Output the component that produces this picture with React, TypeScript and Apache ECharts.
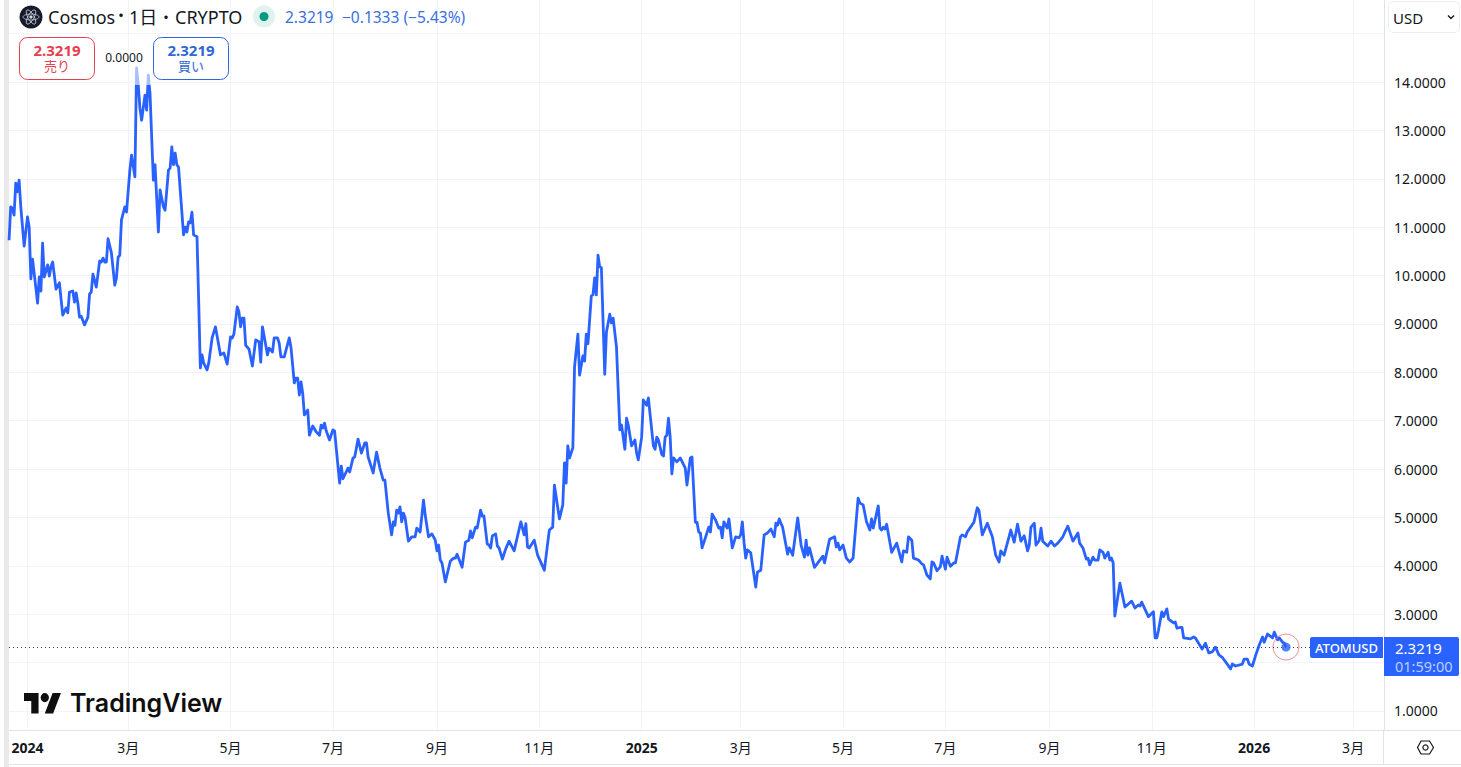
import { useEffect, useRef } from "react";
import * as echarts from "echarts";

// [days since 2024-01-01, close]
const closes: [number, number][] = [
  [-11, 10.73], [-10, 11.42], [-9, 11.39], [-8, 11.25], [-7, 11.91], [-6, 11.73], [-5, 11.97], [-4, 11.42], [-2, 10.61], [0, 11.21],
  [1, 11.0], [2, 9.93], [3, 10.34], [5, 9.74], [6, 9.43], [7, 9.97], [8, 9.68], [9, 10.67], [10, 9.97], [12, 10.22],
  [13, 9.99], [14, 10.18], [15, 10.28], [17, 9.72], [19, 9.85], [21, 9.18], [23, 9.33], [24, 9.23], [25, 9.66], [27, 9.68],
  [28, 9.45], [29, 9.64], [30, 9.43], [31, 9.14], [32, 9.16], [34, 8.98], [36, 9.14], [37, 9.62], [38, 9.66], [39, 10.03],
  [41, 9.76], [43, 10.3], [44, 10.28], [45, 10.36], [46, 10.28], [47, 10.28], [48, 10.76], [50, 10.47], [52, 9.8], [53, 9.95],
  [54, 10.38], [55, 10.42], [56, 11.15], [58, 11.42], [59, 11.31], [61, 12.18], [62, 12.49], [64, 12.04], [65, 14.29], [66, 13.94],
  [67, 13.46], [68, 13.21], [70, 13.73], [71, 13.42], [72, 14.14], [73, 13.77], [75, 11.97], [76, 12.29], [78, 10.9], [79, 11.77],
  [81, 11.42], [82, 11.35], [84, 12.18], [85, 12.22], [86, 12.66], [87, 12.29], [88, 12.53], [89, 12.29], [90, 12.24], [93, 10.84],
  [94, 11.0], [95, 10.9], [96, 11.11], [97, 11.09], [98, 11.31], [99, 10.84], [101, 10.8], [102, 9.49], [103, 8.09], [104, 8.36],
  [105, 8.19], [107, 8.05], [108, 8.19], [110, 8.71], [112, 8.94], [115, 8.36], [117, 8.4], [119, 8.17], [121, 8.73], [122, 8.71],
  [123, 8.79], [125, 9.35], [126, 9.25], [127, 8.94], [128, 9.12], [129, 9.12], [130, 8.56], [132, 8.48], [134, 8.13], [136, 8.67],
  [138, 8.63], [139, 8.21], [140, 8.94], [142, 8.56], [143, 8.36], [144, 8.5], [146, 8.42], [147, 8.71], [149, 8.71], [150, 8.6],
  [151, 8.32], [153, 8.32], [156, 8.71], [157, 8.52], [159, 7.78], [160, 7.88], [161, 7.88], [162, 7.53], [163, 7.8], [164, 7.57],
  [165, 7.12], [167, 7.22], [168, 6.7], [170, 6.89], [172, 6.77], [174, 6.7], [175, 6.91], [176, 6.85], [177, 6.95], [178, 6.79],
  [180, 6.6], [182, 6.81], [183, 6.79], [186, 5.71], [187, 6.06], [188, 5.8], [191, 6.02], [192, 5.94], [194, 6.23], [195, 6.25],
  [197, 6.62], [199, 6.33], [201, 6.54], [202, 6.54], [203, 6.25], [206, 5.92], [208, 6.35], [210, 6.02], [212, 5.77], [213, 5.77],
  [215, 5.09], [217, 4.64], [218, 4.91], [219, 4.84], [220, 5.15], [221, 5.09], [222, 5.22], [223, 4.91], [224, 5.09], [225, 5.0],
  [227, 4.51], [229, 4.6], [231, 4.6], [232, 4.78], [234, 4.7], [236, 5.36], [237, 5.05], [239, 4.6], [241, 4.66], [243, 4.53],
  [244, 4.31], [245, 4.43], [246, 4.12], [247, 4.06], [249, 3.67], [252, 4.1], [254, 4.16], [255, 4.16], [256, 4.24], [259, 3.97],
  [261, 4.49], [263, 4.53], [264, 4.72], [265, 4.58], [267, 4.8], [268, 4.78], [270, 5.15], [271, 5.03], [272, 5.03], [274, 4.45],
  [275, 4.43], [276, 4.37], [277, 4.62], [279, 4.66], [280, 4.41], [281, 4.37], [283, 4.14], [285, 4.35], [287, 4.51], [290, 4.31],
  [294, 4.91], [296, 4.64], [297, 4.87], [298, 4.39], [299, 4.37], [302, 4.53], [304, 4.22], [308, 3.91], [310, 4.47], [311, 4.74],
  [313, 4.8], [314, 5.67], [317, 4.97], [319, 5.26], [320, 6.13], [321, 5.71], [322, 6.48], [323, 6.23], [325, 6.44], [326, 8.11],
  [328, 8.79], [329, 7.94], [331, 8.34], [332, 8.23], [333, 8.79], [334, 8.59], [336, 9.58], [337, 9.6], [338, 9.95], [339, 9.6],
  [340, 10.42], [341, 10.18], [342, 10.16], [344, 7.96], [345, 8.83], [347, 9.2], [348, 9.02], [349, 9.12], [351, 8.52], [353, 6.81],
  [354, 6.91], [356, 6.41], [357, 7.05], [358, 6.91], [360, 6.48], [362, 6.6], [363, 6.33], [364, 6.19], [366, 6.66], [367, 7.43],
  [369, 7.32], [370, 7.47], [373, 6.48], [374, 6.41], [375, 6.66], [376, 6.6], [378, 6.3], [379, 6.27], [380, 6.66], [381, 6.7],
  [382, 7.05], [383, 6.66], [384, 5.9], [385, 6.23], [387, 6.15], [389, 6.23], [392, 6.02], [393, 5.67], [395, 6.23], [396, 6.25],
  [398, 4.9], [399, 4.9], [400, 4.7], [401, 4.68], [402, 4.37], [404, 4.58], [406, 4.8], [407, 4.7], [408, 5.07], [410, 4.95],
  [412, 4.78], [413, 4.8], [414, 4.58], [415, 4.91], [417, 4.78], [418, 4.97], [420, 4.37], [422, 4.6], [424, 4.58], [425, 4.64],
  [426, 4.91], [427, 4.49], [428, 4.16], [429, 4.33], [431, 4.27], [434, 3.56], [435, 3.87], [437, 3.91], [439, 4.64], [441, 4.68],
  [443, 4.76], [445, 4.6], [446, 4.88], [447, 4.84], [448, 4.97], [449, 4.88], [450, 4.8], [453, 4.24], [454, 4.37], [456, 4.22],
  [459, 4.99], [461, 4.43], [463, 4.18], [464, 4.53], [465, 4.22], [466, 4.37], [469, 3.97], [471, 4.06], [474, 4.2], [475, 4.06],
  [478, 4.55], [481, 4.6], [482, 4.39], [483, 4.47], [484, 4.33], [486, 4.43], [488, 4.16], [490, 4.08], [492, 4.16], [495, 5.4],
  [496, 5.3], [498, 5.26], [500, 4.91], [502, 4.74], [503, 4.97], [504, 4.78], [507, 5.24], [508, 4.78], [509, 4.74], [510, 4.8],
  [511, 4.76], [512, 4.86], [515, 4.28], [518, 4.47], [521, 4.08], [522, 4.31], [524, 4.28], [525, 4.6], [527, 4.53], [528, 4.16],
  [531, 4.12], [533, 4.04], [534, 4.02], [536, 3.81], [538, 3.73], [539, 4.08], [540, 4.06], [542, 3.9], [544, 3.98], [545, 4.2],
  [547, 3.93], [548, 4.18], [550, 3.99], [552, 4.06], [553, 4.06], [556, 4.6], [557, 4.64], [559, 4.6], [560, 4.7], [562, 4.8],
  [564, 4.9], [566, 5.2], [567, 5.15], [569, 4.64], [572, 4.88], [575, 4.6], [577, 4.22], [579, 4.08], [580, 4.31], [582, 4.22],
  [586, 4.74], [588, 4.49], [590, 4.86], [592, 4.51], [594, 4.62], [596, 4.31], [597, 4.43], [598, 4.8], [600, 4.88], [601, 4.43],
  [603, 4.53], [604, 4.78], [605, 4.51], [608, 4.41], [610, 4.51], [612, 4.41], [614, 4.47], [617, 4.6], [618, 4.68], [620, 4.82],
  [623, 4.51], [626, 4.68], [627, 4.47], [629, 4.37], [631, 4.14], [632, 4.16], [633, 4.02], [635, 4.18], [636, 4.12], [638, 4.12],
  [639, 4.33], [641, 4.28], [642, 4.16], [644, 4.28], [645, 4.12], [646, 4.16], [647, 4.06], [648, 2.96], [651, 3.64], [654, 3.15],
  [658, 3.27], [660, 3.13], [662, 3.19], [663, 3.17], [664, 3.25], [668, 2.95], [671, 3.05], [672, 2.51], [673, 2.51], [674, 2.67],
  [676, 3.05], [677, 2.95], [679, 3.11], [680, 2.9], [683, 2.82], [684, 2.84], [685, 2.71], [687, 2.73], [688, 2.73], [689, 2.51],
  [693, 2.49], [695, 2.53], [696, 2.51], [700, 2.28], [702, 2.4], [704, 2.2], [706, 2.22], [708, 2.32], [710, 2.16], [712, 2.11],
  [717, 1.87], [718, 1.97], [720, 1.93], [724, 1.97], [725, 2.07], [727, 2.07], [728, 1.97], [730, 1.93], [732, 2.16], [734, 2.36],
  [736, 2.53], [737, 2.42], [739, 2.59], [742, 2.51], [743, 2.63], [745, 2.47], [746, 2.51], [748, 2.42], [749, 2.4], [750, 2.3219],
];

const tickDays = [0, 60, 121, 182, 244, 305, 366, 425, 486, 547, 609, 670, 731, 790];
const tickNames = ["2024", "3月", "5月", "7月", "9月", "11月", "2025", "3月", "5月", "7月", "9月", "11月", "2026", "3月"];
const gridPrices = [1, 2, 3, 4, 5, 6, 7, 8, 9, 10, 11, 12, 13, 14, 15];
const labelPrices = [1, 3, 4, 5, 6, 7, 8, 9, 10, 11, 12, 13, 14];
const lastPrice = closes[closes.length - 1];

const BLUE = "#2962ff";
const RED = "#e5404f";
const INK = "#131722";
const RULE = "#e0e3eb";
const FONT = '"Noto Sans", "Noto Sans CJK JP", sans-serif';

echarts.graphic.registerShape(
  "tvlogo",
  echarts.graphic.extendPath("M14 22H7V11H0V4h14v18zM28 22h-8l7.5-18h8L28 22zM16 8a4 4 0 1 0 8 0a4 4 0 1 0 -8 0z", {})
);

function label(x: number, y: number, text: string, size: number, fill: string, extra: any = {}) {
  return {
    type: "text",
    z: 100,
    x,
    y,
    style: { text, fontSize: size, fontFamily: FONT, fill, textVerticalAlign: "middle", ...extra },
  };
}

function box(x: number, y: number, w: number, h: number, color: string) {
  return {
    type: "rect",
    z: 99,
    shape: { x, y, width: w, height: h, r: 8 },
    style: { fill: "#fff", stroke: color, lineWidth: 1 },
  };
}

function buildGraphics() {
  return [
    // left edge strip
    { type: "rect", z: 1, shape: { x: 4, y: 0, width: 5, height: 767 }, style: { fill: "#e9e9ea" } },
    // lower frame of the time scale
    { type: "line", z: 1, shape: { x1: 9, y1: 764.5, x2: 1461, y2: 764.5 }, style: { stroke: RULE } },
    { type: "line", z: 1, shape: { x1: 1383.5, y1: 730, x2: 1383.5, y2: 764 }, style: { stroke: RULE } },
    { type: "line", z: 1, shape: { x1: 1384, y1: 730.5, x2: 1461, y2: 730.5 }, style: { stroke: RULE } },

    // title row
    { type: "circle", z: 100, shape: { cx: 31, cy: 17, r: 11.5 }, style: { fill: "#171a28" } },
    { type: "ellipse", z: 101, x: 31, y: 17, rotation: 0, shape: { cx: 0, cy: 0, rx: 8, ry: 3 }, style: { fill: "none", stroke: "#c9cbe0", lineWidth: 0.8 } },
    { type: "ellipse", z: 101, x: 31, y: 17, rotation: Math.PI / 3, shape: { cx: 0, cy: 0, rx: 8, ry: 3 }, style: { fill: "none", stroke: "#c9cbe0", lineWidth: 0.8 } },
    { type: "ellipse", z: 101, x: 31, y: 17, rotation: -Math.PI / 3, shape: { cx: 0, cy: 0, rx: 8, ry: 3 }, style: { fill: "none", stroke: "#c9cbe0", lineWidth: 0.8 } },
    { type: "circle", z: 101, shape: { cx: 31, cy: 17, r: 1.6 }, style: { fill: "#d8d9ea" } },
    label(48, 17, "Cosmos", 18, INK),
    label(113, 15, "・", 16, INK),
    label(129, 17, "1日", 18, INK),
    label(158, 17, "・", 16, INK),
    label(175, 17, "CRYPTO", 18, INK),
    { type: "circle", z: 100, shape: { cx: 264, cy: 16.5, r: 11 }, style: { fill: "#dff2ee" } },
    { type: "circle", z: 101, shape: { cx: 264, cy: 16.5, r: 4.5 }, style: { fill: "#089981" } },
    label(285, 17, "2.3219", 15.5, "#3a6fe0"),
    label(342, 17, "−0.1333 (−5.43%)", 15.5, "#3a6fe0"),

    // sell / buy buttons
    box(19.5, 37.5, 75, 42, RED),
    label(57, 49.5, "2.3219", 15, RED, { textAlign: "center", fontWeight: 700 }),
    label(57, 66, "売り", 13, RED, { textAlign: "center" }),
    label(124, 57, "0.0000", 12, INK, { textAlign: "center" }),
    box(153.5, 37.5, 75, 42, "#2f66d8"),
    label(191, 49.5, "2.3219", 15, "#2f66d8", { textAlign: "center", fontWeight: 700 }),
    label(191, 66, "買い", 13, "#2f66d8", { textAlign: "center" }),

    // the line fades under the overlay near the top
    { type: "rect", z: 98, shape: { x: 130, y: 60, width: 22, height: 25 }, style: { fill: "rgba(255,255,255,0.6)" } },

    // currency selector
    { type: "rect", z: 100, shape: { x: 1388.5, y: 1.5, width: 71, height: 31, r: 5 }, style: { fill: "#fff", stroke: "#eceef2" } },
    label(1393, 17.5, "USD", 15, INK),
    { type: "polyline", z: 101, shape: { points: [[1448, 15.5], [1451, 18.5], [1454, 15.5]] }, style: { fill: "none", stroke: INK, lineWidth: 1.4 } },

    // last price tags
    { type: "rect", z: 100, shape: { x: 1310, y: 637, width: 73, height: 21, r: [2, 0, 0, 2] }, style: { fill: BLUE } },
    label(1346.5, 648, "ATOMUSD", 13, "#fff", { textAlign: "center", fontWeight: 500 }),
    { type: "rect", z: 100, shape: { x: 1384, y: 637, width: 75, height: 39, r: [0, 2, 2, 0] }, style: { fill: BLUE } },
    label(1395, 647.5, "2.3219", 15, "#fff"),
    label(1395, 665.5, "01:59:00", 14.5, "#bcd0ff"),

    // settings hexagon
    { type: "polygon", z: 100, shape: { points: [[1417.5, 747.5], [1421, 741], [1429.5, 741], [1433.5, 747.5], [1429.5, 754], [1421, 754]] }, style: { fill: "none", stroke: INK, lineWidth: 1.2 } },
    { type: "circle", z: 100, shape: { cx: 1425.5, cy: 747.5, r: 2.6 }, style: { fill: "none", stroke: INK, lineWidth: 1.2 } },

    // watermark
    { type: "tvlogo", z: 100, x: 24, y: 688.5, scaleX: 1.04, scaleY: 1.14, style: { fill: "#0f0f0f" } },
    {
      type: "text",
      z: 100,
      x: 70,
      y: 703,
      style: { text: "TradingView", fontSize: 25, fontWeight: 600, fontFamily: "Inter, sans-serif", fill: "#0f0f0f", textVerticalAlign: "middle" },
    },
  ];
}

function buildOption(): echarts.EChartsOption {
  return {
    animation: false,
    backgroundColor: "#fff",
    grid: { left: 9, top: 0, width: 1375, height: 730, containLabel: false },
    xAxis: {
      type: "value",
      min: -11.03,
      max: 808.4,
      axisLine: { show: true, lineStyle: { color: RULE } },
      axisTick: { show: false, customValues: tickDays },
      splitLine: { show: true, lineStyle: { color: "#f1f3f7" } },
      axisLabel: {
        customValues: tickDays,
        margin: 10,
        fontSize: 14,
        fontFamily: FONT,
        color: INK,
        formatter: (v: number) => {
          const name = tickNames[tickDays.indexOf(v)] ?? "";
          return name.length === 4 ? `{year|${name}}` : name;
        },
        rich: { year: { fontSize: 14, fontWeight: 700, fontFamily: FONT, color: INK } },
      },
    },
    yAxis: {
      type: "value",
      position: "right",
      min: 0.607,
      max: 15.695,
      axisLine: { show: true, onZero: false, lineStyle: { color: RULE } },
      axisTick: { show: false, customValues: gridPrices },
      splitLine: { show: true, lineStyle: { color: "#f1f3f7" } },
      axisLabel: {
        customValues: labelPrices,
        margin: 10,
        fontSize: 14,
        fontFamily: FONT,
        color: INK,
        formatter: (v: number) => v.toFixed(4),
      },
    },
    series: [
      {
        type: "line",
        data: closes,
        showSymbol: false,
        lineStyle: { color: BLUE, width: 2.8, join: "round" },
        z: 3,
        markLine: {
          silent: true,
          symbol: "none",
          label: { show: false },
          lineStyle: { color: "#1f3c88", type: [1, 3], width: 1 },
          data: [{ yAxis: lastPrice[1] }],
        },
      },
      {
        type: "scatter",
        data: [lastPrice],
        symbolSize: 26,
        itemStyle: { color: "rgba(0,0,0,0)", borderColor: "#e8707c", borderWidth: 1 },
        z: 4,
      },
      {
        type: "scatter",
        data: [lastPrice],
        symbolSize: 9,
        itemStyle: { color: BLUE },
        z: 5,
      },
    ],
    graphic: buildGraphics() as any,
  };
}

export default function App() {
  const chartRef = useRef<HTMLDivElement>(null);

  useEffect(() => {
    if (!chartRef.current) return;
    const chart = echarts.init(chartRef.current, undefined, { renderer: "svg" });
    chart.setOption(buildOption());
    return () => chart.dispose();
  }, []);

  return <div ref={chartRef} style={{ position: "fixed", left: 0, top: 0, width: 1461, height: 767 }} />;
}
